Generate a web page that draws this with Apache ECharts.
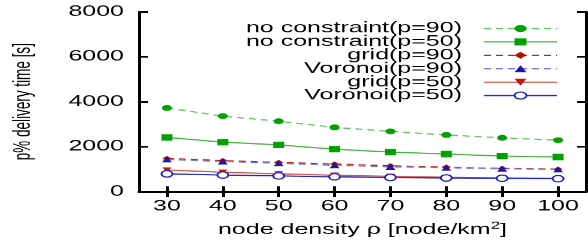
<!DOCTYPE html>
<html lang="en">
<head>
	<meta charset="UTF-8">
	<title>p% delivery time</title>
	<style>
		body{margin:0;overflow:hidden;background:#fff;}
		/* the reference is squeezed vertically, so draw tall and scale down */
		#chart{width:588px;height:410px;transform:scaleY(0.5878);transform-origin:0 0;}
	</style>
</head>
<body>
	<div id="chart"></div>
	<script type="text/javascript" src="https://cdn.jsdelivr.net/npm/echarts@6/dist/echarts.min.js"></script>
	<script type="text/javascript">
		var density = [30, 40, 50, 60, 70, 80, 90, 100];
		var yTicks = [0, 2000, 4000, 6000, 8000];
		var noConstraint90 = [3720, 3360, 3130, 2860, 2680, 2520, 2390, 2290];
		var noConstraint50 = [2410, 2200, 2080, 1890, 1760, 1670, 1580, 1540];
		var grid90 = [1480, 1380, 1300, 1230, 1150, 1090, 1030, 1000];
		var voronoi90 = [1430, 1340, 1260, 1170, 1100, 1060, 1020, 990];
		var grid50 = [960, 860, 790, 730, 680, 640, 610, 580];
		var voronoi50 = [790, 740, 700, 660, 630, 610, 595, 575];

		function pairs(vals){
			var out = [];
			for (var i = 0; i < density.length; i++) {
				out.push([density[i], vals[i]]);
			}
			return out;
		}

		var font = 'Liberation Sans';
		var line = {show: true, lineStyle: {color: '#000', width: 3}};
		var ticks = {show: true, inside: true, length: 9, lineStyle: {color: '#000', width: 3}};

		var dom = document.getElementById("chart");
		var myChart = echarts.init(dom);
		var option = {
			animation: false,
			grid: {left: 139, right: 2, top: 20, bottom: 84},
			legend: {
				orient: 'vertical',
				align: 'right',
				right: 30,
				top: 36,
				padding: 0,
				itemWidth: 73,
				itemHeight: 15,
				itemGap: -2.2,
				textStyle: {fontFamily: font, fontSize: 25, lineHeight: 22, color: '#000', padding: [0, 17, 0, 0]},
				data: ['no constraint(p=90)', 'no constraint(p=50)', 'grid(p=90)', 'Voronoi(p=90)', 'grid(p=50)', 'Voronoi(p=50)']
			},
			xAxis: [{
				type: 'value',
				min: 25,
				max: 105,
				name: 'node density ρ [node/km{sup|2}]',
				nameLocation: 'middle',
				nameGap: 50,
				nameTextStyle: {
					fontFamily: font, fontSize: 25, color: '#000',
					rich: {sup: {fontFamily: font, fontSize: 17, color: '#000', padding: [0, 0, 14, 0]}}
				},
				axisLine: line,
				axisTick: {show: true, inside: true, length: 9, lineStyle: {color: '#000', width: 3}, customValues: density},
				axisLabel: {fontFamily: font, fontSize: 25, color: '#000', margin: 13, customValues: density},
				splitLine: {show: false}
			}, {
				type: 'value',
				position: 'top',
				min: 25,
				max: 105,
				axisLine: line,
				axisTick: {show: true, inside: true, length: 9, lineStyle: {color: '#000', width: 3}, customValues: density},
				axisLabel: {show: false},
				splitLine: {show: false}
			}],
			yAxis: [{
				type: 'value',
				min: 0,
				max: 8000,
				interval: 2000,
				name: 'p% delivery time [s]',
				nameLocation: 'middle',
				nameGap: 104,
				nameTextStyle: {fontFamily: font, fontSize: 23, color: '#000'},
				axisLine: line,
				axisTick: ticks,
				axisLabel: {
					fontFamily: font, fontSize: 25, color: '#000', margin: 15,
					customValues: yTicks,
					formatter: function(v){ return String(v); }
				},
				splitLine: {show: false}
			}, {
				type: 'value',
				position: 'right',
				min: 0,
				max: 8000,
				interval: 2000,
				axisLine: line,
				axisTick: ticks,
				axisLabel: {show: false},
				splitLine: {show: false}
			}],
			series: [{
				name: 'no constraint(p=90)',
				type: 'line',
				data: pairs(noConstraint90),
				symbol: 'circle',
				symbolSize: 10,
				itemStyle: {color: '#00a000'},
				lineStyle: {color: '#5cc05c', width: 2, type: [7, 5]}
			}, {
				name: 'no constraint(p=50)',
				type: 'line',
				data: pairs(noConstraint50),
				symbol: 'rect',
				symbolSize: 11,
				itemStyle: {color: '#00a000'},
				lineStyle: {color: '#40b040', width: 2}
			}, {
				name: 'grid(p=90)',
				type: 'line',
				data: pairs(grid90),
				symbol: 'diamond',
				symbolSize: 9,
				itemStyle: {color: '#b01000'},
				lineStyle: {color: '#c02010', width: 2, type: [7, 5]}
			}, {
				name: 'Voronoi(p=90)',
				type: 'line',
				data: pairs(voronoi90),
				symbol: 'triangle',
				symbolSize: 10,
				itemStyle: {color: '#1818b0'},
				lineStyle: {color: '#7878e0', width: 2, type: [7, 5]}
			}, {
				name: 'grid(p=50)',
				type: 'line',
				data: pairs(grid50),
				symbol: 'triangle',
				symbolRotate: 180,
				symbolSize: 9,
				itemStyle: {color: '#c01808'},
				lineStyle: {color: '#d05040', width: 2}
			}, {
				name: 'Voronoi(p=50)',
				type: 'line',
				data: pairs(voronoi50),
				symbol: 'emptyCircle',
				symbolSize: 11,
				itemStyle: {color: '#2020c0', borderWidth: 2},
				lineStyle: {color: '#2020c0', width: 2}
			}]
		};
		myChart.setOption(option, true);
	</script>
</body>
</html>
